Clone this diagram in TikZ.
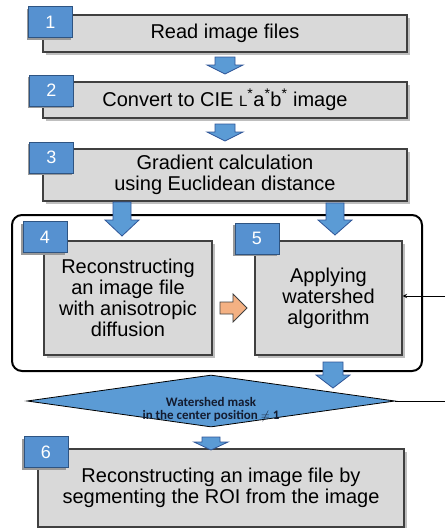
\documentclass[tikz,border=0pt]{standalone}
\usepackage{fontspec}
\setmainfont{Liberation Sans}
\newfontfamily\calibri{Carlito}
\usetikzlibrary{arrows,shapes,shadows,positioning}
\definecolor{boxgray}{RGB}{217,217,217}
\definecolor{boxedge}{RGB}{64,64,64}
\definecolor{badgeblue}{RGB}{86,145,208}
\definecolor{badgeedge}{RGB}{46,84,130}
\definecolor{arrblue}{RGB}{91,155,213}
\definecolor{arredge}{RGB}{47,85,151}
\definecolor{arrorange}{RGB}{244,177,131}
\definecolor{masktext}{RGB}{20,28,48}
% block arrow pointing down: style, x, top, tip, half shaft, half head, head length
\newcommand{\downblock}[7]{\draw[#1] (#2-#5,#3) -- (#2+#5,#3) -- (#2+#5,#4-#7) -- (#2+#6,#4-#7)
  -- (#2,#4) -- (#2-#6,#4-#7) -- (#2-#5,#4-#7) -- cycle;}
\begin{document}
\begin{tikzpicture}[x=1pt,y=-1pt]
  \tikzstyle{block} = [rectangle, draw=boxedge, line width=1.2pt, fill=boxgray, align=center,
  inner sep=0pt, font=\fontsize{20}{21}\selectfont,
  drop shadow={shadow xshift=3pt, shadow yshift=-3pt, fill=black!25, opacity=1}]
  \tikzstyle{badge} = [rectangle, draw=badgeedge, line width=1pt, fill=badgeblue, text=white,
  inner sep=0pt, minimum width=44pt, minimum height=31pt, font=\fontsize{18}{18}\selectfont,
  drop shadow={shadow xshift=-2pt, shadow yshift=-2pt, fill=black!40, opacity=1}]
  \tikzstyle{blockarr} = [draw=arredge, line width=0.8pt, fill=arrblue, line join=miter]
  \tikzstyle{line} = [line width=1pt, draw]
\useasboundingbox (0,0) rectangle (445,528);
% frame round steps 4 and 5
\node [draw, line width=2pt, rounded corners=10pt, minimum width=410pt, minimum height=156pt] (group) at (217,293) {};
% steps
\node [block, minimum width=364pt, minimum height=37pt] (1) at (225,33.5) {Read image files};
\node [block, minimum width=364pt, minimum height=36pt] (2) at (225,100) {Convert to CIE {\fontsize{15}{15}\selectfont L}\textsuperscript{*}a\textsuperscript{*}b\textsuperscript{*} image};
\node [block, minimum width=364pt, minimum height=52pt] (3) at (225,175) {Gradient calculation\\using Euclidean distance};
\node [block, minimum width=168pt, minimum height=114pt] (4) at (128,298) {Reconstructing\\an image file\\with anisotropic\\diffusion};
\node [block, minimum width=147pt, minimum height=114pt] (5) at (328.5,298) {Applying\\watershed\\algorithm};
\node [block, minimum width=366pt, minimum height=78pt] (6) at (221,488) {Reconstructing an image file by\\segmenting the ROI from the image};
% decision
\node [diamond, draw=black, line width=0.8pt, fill=arrblue, aspect=7, inner sep=0pt,
  minimum width=368pt, minimum height=52pt] (dia) at (211,401) {};
\node [align=center, text=masktext, font=\calibri\bfseries\fontsize{13}{13}\selectfont] (mask) at (211,410) {Watershed mask\\in the center position $\neq$ 1};
% numbers
\node [badge] (n1) at (50.5,22) {1};
\node [badge] (n2) at (51.5,90.5) {2};
\node [badge] (n3) at (51.5,157.5) {3};
\node [badge] (n4) at (45,237) {4};
\node [badge] (n5) at (257,238.5) {5};
\node [badge] (n6) at (46,452) {6};
% block arrows
\downblock{blockarr}{225}{57}{74}{10}{18}{9}
\downblock{blockarr}{225}{124}{141}{10}{18}{9}
\downblock{blockarr}{122}{202}{236}{9}{17}{16}
\downblock{blockarr}{335}{203}{235}{9}{17}{15}
\downblock{blockarr}{333}{362}{388}{10}{17}{13}
\downblock{blockarr}{211}{437}{450}{9}{17}{8}
\draw [draw=boxedge, line width=0.8pt, fill=arrorange, line join=miter]
  (220,302) -- (233,302) -- (233,294) -- (247,308) -- (233,322) -- (233,314) -- (220,314) -- cycle;
% loop back
\coordinate (back) at (445,296);
\coordinate (out) at (445,402);
\path [line, -stealth] (back) -- (back -| 5.east);
\path [line] (dia.east) -- (dia.east -| out);
\end{tikzpicture}
\end{document}
